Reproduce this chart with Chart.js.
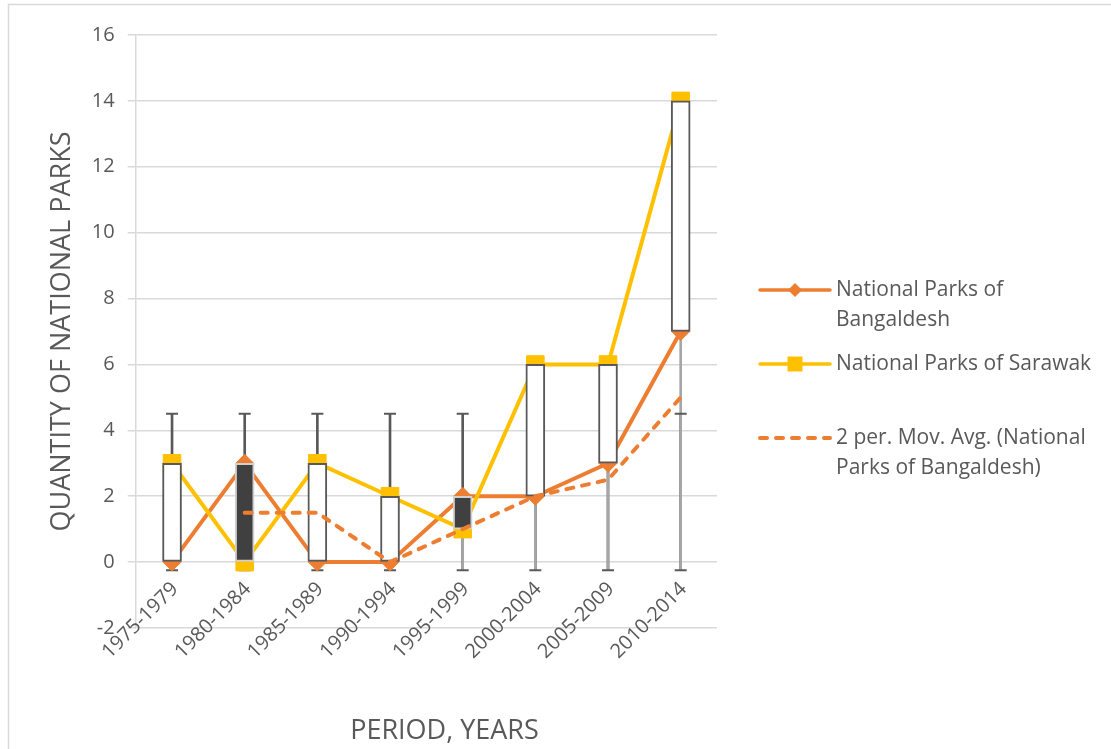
<!DOCTYPE html>
<html>
<head>
<meta charset="utf-8">
<title>National parks by period</title>
<script src="https://cdn.jsdelivr.net/npm/chart.js@4.4.1/dist/chart.umd.min.js"></script>
<style>
  html, body { margin: 0; padding: 0; background: #ffffff; }
  #wrap { width: 1111px; height: 749px; position: relative; }
  canvas { display: block; }
</style>
</head>
<body>
<div id="wrap"><canvas id="chart" width="1111" height="749"></canvas></div>
<script>
// ---- data ----
const periods = ['1975-1979', '1980-1984', '1985-1989', '1990-1994', '1995-1999', '2000-2004', '2005-2009', '2010-2014'];
const bangladesh = [0, 3, 0, 0, 2, 2, 3, 7];
const sarawak = [3, 0, 3, 2, 1, 6, 6, 14];
const movingAvg = [null, 1.5, 1.5, 0, 1, 2, 2.5, 5];
const whiskerLow = [-0.25, -0.25, -0.25, -0.25, -0.25, -0.25, -0.25, -0.25];
const whiskerHigh = [4.5, 4.5, 4.5, 4.5, 4.5, 4.5, 4.5, 4.5];
const yMin = -2, yMax = 16, yStep = 2;

const legendLabels = [
  ['National Parks of', 'Bangaldesh'],
  ['National Parks of Sarawak'],
  ['2 per. Mov. Avg. (National', 'Parks of Bangaldesh)']
];
const xTitle = 'PERIOD, YEARS';
const yTitle = 'QUANTITY OF NATIONAL PARKS';

// ---- style ----
const FONT = '"Open Sans", "Noto Sans", sans-serif';
const TEXT = '#595959';
const GRID = '#d9d9d9';
const ORANGE = '#ED7D31';
const GOLD = '#FFC000';
const STEM = '#595959';
const STEM_LIGHT = '#a6a6a6';
const DOWN_FILL = '#404040';
const AVG_DASH = [7, 9];

// up/down bars span between the two series for every period
const upDown = periods.map((_, i) => [bangladesh[i], sarawak[i]]);
const isUp = periods.map((_, i) => sarawak[i] >= bangladesh[i]);

// outer frame, rotated category labels, axis title and legend
const decorations = {
  id: 'decorations',
  beforeDraw(chart) {
    const ctx = chart.ctx;
    ctx.save();
    ctx.strokeStyle = GRID;
    ctx.lineWidth = 1.5;
    ctx.strokeRect(8.5, 4.5, 1400, 1000);
    ctx.restore();
  },
  afterDraw(chart) {
    const ctx = chart.ctx;
    const x = chart.scales.x;
    ctx.save();
    ctx.fillStyle = TEXT;

    // category labels at 45 degrees
    ctx.font = '20px ' + FONT;
    ctx.textAlign = 'right';
    ctx.textBaseline = 'middle';
    periods.forEach((p, i) => {
      const px = x.getPixelForValue(i);
      ctx.save();
      ctx.translate(px + 3, 586);
      ctx.rotate(-Math.PI / 4);
      ctx.fillText(p, 0, 0);
      ctx.restore();
    });

    // horizontal axis title
    ctx.font = '27px ' + FONT;
    ctx.textAlign = 'center';
    ctx.fillText(xTitle, 444.5, 731);

    // legend
    const sx0 = 760, sx1 = 830, mx = 795, tx = 836;
    const rows = [290, 364, 438];
    const lineGap = 30.5;
    ctx.lineCap = 'round';

    // Bangladesh
    ctx.strokeStyle = ORANGE; ctx.lineWidth = 3.5;
    ctx.beginPath(); ctx.moveTo(sx0, rows[0]); ctx.lineTo(sx1, rows[0]); ctx.stroke();
    ctx.fillStyle = ORANGE;
    ctx.beginPath();
    ctx.moveTo(mx - 7, rows[0]); ctx.lineTo(mx, rows[0] - 7);
    ctx.lineTo(mx + 7, rows[0]); ctx.lineTo(mx, rows[0] + 7);
    ctx.closePath(); ctx.fill();

    // Sarawak
    ctx.strokeStyle = GOLD;
    ctx.beginPath(); ctx.moveTo(sx0, rows[1]); ctx.lineTo(sx1, rows[1]); ctx.stroke();
    ctx.fillStyle = GOLD;
    ctx.fillRect(mx - 7.5, rows[1] - 7.5, 15, 15);

    // moving average
    ctx.strokeStyle = ORANGE;
    ctx.lineWidth = 4;
    ctx.setLineDash(AVG_DASH);
    ctx.beginPath(); ctx.moveTo(sx0, rows[2]); ctx.lineTo(sx1, rows[2]); ctx.stroke();
    ctx.setLineDash([]);

    ctx.fillStyle = TEXT;
    ctx.font = '21px ' + FONT;
    ctx.textAlign = 'left';
    legendLabels.forEach((lines, r) => {
      lines.forEach((t, k) => ctx.fillText(t, tx, rows[r] + k * lineGap));
    });
    ctx.restore();
  }
};

new Chart(document.getElementById('chart'), {
  type: 'bar',
  data: {
    labels: periods,
    datasets: [
      {
        // whisker stems
        type: 'bar',
        data: periods.map((_, i) => [whiskerLow[i], whiskerHigh[i]]),
        backgroundColor: STEM,
        barThickness: 2,
        grouped: false,
        borderWidth: 0,
        order: 10
      },
      {
        // lower connector up to the bottom of each up/down bar
        type: 'bar',
        data: periods.map((_, i) => [whiskerLow[i], Math.min(bangladesh[i], sarawak[i])]),
        backgroundColor: STEM_LIGHT,
        barThickness: 2,
        grouped: false,
        borderWidth: 0,
        order: 9
      },
      {
        // whisker caps, low end
        type: 'line',
        data: whiskerLow,
        showLine: false,
        pointStyle: 'line',
        pointRadius: 6,
        pointBorderWidth: 2,
        pointBorderColor: STEM,
        order: 8
      },
      {
        // whisker caps, high end
        type: 'line',
        data: whiskerHigh,
        showLine: false,
        pointStyle: 'line',
        pointRadius: 6,
        pointBorderWidth: 2,
        pointBorderColor: STEM,
        order: 8
      },
      {
        type: 'line',
        label: 'National Parks of Bangaldesh',
        data: bangladesh,
        borderColor: ORANGE,
        borderWidth: 4,
        tension: 0,
        pointStyle: 'rectRot',
        pointRadius: 9,
        pointBackgroundColor: ORANGE,
        pointBorderColor: ORANGE,
        pointBorderWidth: 1,
        order: 6
      },
      {
        type: 'line',
        label: 'National Parks of Sarawak',
        data: sarawak,
        borderColor: GOLD,
        borderWidth: 4,
        tension: 0,
        pointStyle: 'rect',
        pointRadius: 12.4,
        pointBackgroundColor: GOLD,
        pointBorderColor: GOLD,
        pointBorderWidth: 1,
        order: 5
      },
      {
        // up/down bars
        type: 'bar',
        data: upDown,
        backgroundColor: isUp.map(u => u ? '#ffffff' : DOWN_FILL),
        borderColor: isUp.map(u => u ? STEM : '#d0d0d0'),
        borderWidth: 2,
        borderSkipped: false,
        barThickness: 19,
        grouped: false,
        order: 2
      },
      {
        type: 'line',
        label: '2 per. Mov. Avg. (National Parks of Bangaldesh)',
        data: movingAvg,
        borderColor: ORANGE,
        borderWidth: 4,
        borderDash: AVG_DASH,
        borderCapStyle: 'round',
        tension: 0,
        pointRadius: 0,
        spanGaps: false,
        order: 1
      }
    ]
  },
  options: {
    responsive: false,
    animation: false,
    events: [],
    layout: { padding: { top: 35, right: 394, bottom: 0, left: 0 } },
    plugins: {
      legend: { display: false },
      tooltip: { enabled: false },
      title: { display: false }
    },
    scales: {
      x: {
        offset: true,
        grid: { display: false },
        border: { display: false },
        ticks: { display: false },
        afterFit(scale) { scale.height = 121; }
      },
      y: {
        min: yMin,
        max: yMax,
        ticks: {
          stepSize: yStep,
          color: TEXT,
          padding: 13,
          font: { family: FONT, size: 20 }
        },
        grid: { color: GRID, lineWidth: 1.5, tickLength: 8, drawTicks: true },
        border: { display: true, color: GRID, width: 1.5 },
        title: {
          display: true,
          text: yTitle,
          color: TEXT,
          font: { family: FONT, size: 27 },
          padding: { top: 46, bottom: 0 }
        },
        afterFit(scale) { scale.width = 135.7; }
      }
    }
  },
  plugins: [decorations]
});
</script>
</body>
</html>
